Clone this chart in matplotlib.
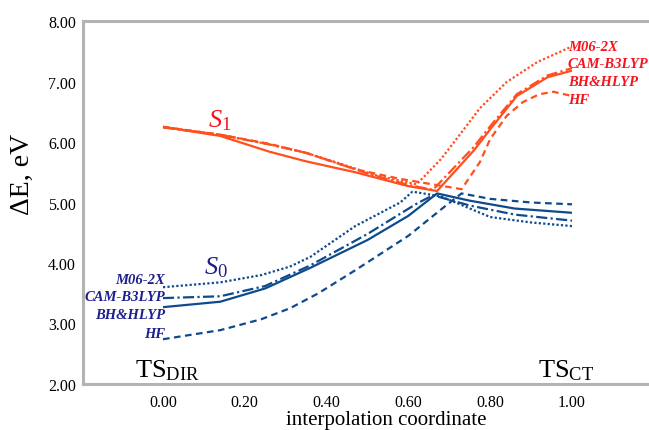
import matplotlib
matplotlib.use("Agg")
import matplotlib.pyplot as plt

plt.rcParams['font.family'] = ['Liberation Serif', 'DejaVu Serif']
plt.rcParams['mathtext.fontset'] = 'custom'
plt.rcParams['mathtext.rm'] = 'Liberation Serif'
plt.rcParams['mathtext.it'] = 'Liberation Serif:italic'
plt.rcParams['mathtext.default'] = 'it'

# ---- data ----
xticks = [0.0, 0.2, 0.4, 0.6, 0.8, 1.0]
xtick_labels = ["0.00", "0.20", "0.40", "0.60", "0.80", "1.00"]
yticks = [2, 3, 4, 5, 6, 7, 8]
ytick_labels = ["2.00", "3.00", "4.00", "5.00", "6.00", "7.00", "8.00"]
methods = ["M06-2X", "CAM-B3LYP", "BH&HLYP", "HF"]

# S0 curves
s0_m06_x = [0, 0.14, 0.24, 0.31, 0.36, 0.47, 0.58, 0.61, 0.68, 0.8, 0.9, 1.0]
s0_m06_y = [3.60, 3.68, 3.80, 3.94, 4.10, 4.61, 5.00, 5.18, 5.10, 4.76, 4.67, 4.61]
s0_cam_x = [0, 0.14, 0.25, 0.36, 0.5, 0.62, 0.66, 0.75, 0.86, 1.0]
s0_cam_y = [3.42, 3.45, 3.62, 3.96, 4.48, 4.98, 5.12, 4.95, 4.80, 4.70]
s0_bhh_x = [0, 0.14, 0.25, 0.36, 0.5, 0.6, 0.67, 0.75, 0.86, 1.0]
s0_bhh_y = [3.27, 3.36, 3.58, 3.92, 4.38, 4.78, 5.15, 5.03, 4.90, 4.83]
s0_hf_x = [0, 0.14, 0.24, 0.31, 0.38, 0.47, 0.6, 0.69, 0.73, 0.8, 0.9, 1.0]
s0_hf_y = [2.74, 2.89, 3.07, 3.25, 3.50, 3.88, 4.45, 4.94, 5.15, 5.06, 5.00, 4.97]

# S1 curves
s1_m06_x = [0, 0.14, 0.26, 0.35, 0.43, 0.52, 0.62, 0.68, 0.73, 0.775, 0.84, 0.915, 1.0]
s1_m06_y = [6.25, 6.12, 5.96, 5.82, 5.65, 5.45, 5.30, 5.72, 6.16, 6.56, 6.99, 7.32, 7.58]
s1_cam_x = [0, 0.14, 0.26, 0.35, 0.43, 0.5, 0.6, 0.66, 0.76, 0.8, 0.865, 0.94, 1.0]
s1_cam_y = [6.24, 6.12, 5.96, 5.82, 5.64, 5.48, 5.29, 5.21, 5.92, 6.26, 6.79, 7.10, 7.22]
s1_bhh_x = [0, 0.14, 0.26, 0.35, 0.47, 0.6, 0.67, 0.76, 0.8, 0.865, 0.94, 1.0]
s1_bhh_y = [6.25, 6.10, 5.84, 5.68, 5.50, 5.27, 5.19, 5.86, 6.21, 6.76, 7.07, 7.18]
s1_hf_x = [0, 0.14, 0.26, 0.35, 0.47, 0.58, 0.73, 0.775, 0.8, 0.84, 0.88, 0.92, 0.955, 1.0]
s1_hf_y = [6.25, 6.12, 5.97, 5.82, 5.55, 5.39, 5.22, 5.67, 6.05, 6.43, 6.66, 6.79, 6.83, 6.76]

# ---- styling ----
BLUE = '#0e4a8e'
RED = '#ff4f1f'
BLUE_TXT = '#1e1e8c'
RED_TXT = '#f5141e'
LW = 1.6
styles = {
    "M06-2X": (0, (1, 1)),
    "CAM-B3LYP": (0, (5, 1.5, 1, 1.5)),
    "BH&HLYP": '-',
    "HF": (0, (3, 2)),
}

fig = plt.figure(figsize=(6.49, 4.31), dpi=100)
ax = fig.add_axes([83/649, 46/431, (649-83)/649, 363/431])

s0 = {"M06-2X": (s0_m06_x, s0_m06_y), "CAM-B3LYP": (s0_cam_x, s0_cam_y),
      "BH&HLYP": (s0_bhh_x, s0_bhh_y), "HF": (s0_hf_x, s0_hf_y)}
s1 = {"M06-2X": (s1_m06_x, s1_m06_y), "CAM-B3LYP": (s1_cam_x, s1_cam_y),
      "BH&HLYP": (s1_bhh_x, s1_bhh_y), "HF": (s1_hf_x, s1_hf_y)}

for m in methods:
    x, y = s0[m]
    ax.plot(x, y, color=BLUE, lw=LW, ls=styles[m], solid_capstyle='butt')
for m in methods:
    x, y = s1[m]
    ax.plot(x, y, color=RED, lw=LW, ls=styles[m], solid_capstyle='butt')

ax.set_xlim(-80/409, 486/409)
ax.set_ylim(2, 8)
ax.set_xticks(xticks)
ax.set_xticklabels(xtick_labels)
ax.set_yticks(yticks)
ax.set_yticklabels(ytick_labels)
ax.tick_params(length=0, labelsize=11.5)
ax.tick_params(axis='y', pad=5)
ax.tick_params(axis='x', pad=7)
for s in ['top', 'bottom', 'left']:
    ax.spines[s].set_color('#b3b3b3')
    ax.spines[s].set_linewidth(2.2)
ax.spines['right'].set_visible(False)

# curve labels
left_y = [3.67, 3.39, 3.09, 2.78]
right_y = [7.52, 7.24, 6.94, 6.64]
for m, yl, yr in zip(methods, left_y, right_y):
    ax.text(0.005, yl, m, color=BLUE_TXT, fontsize=10.5, fontweight='bold',
            fontstyle='italic', ha='right', va='baseline')
    ax.text(0.99, yr, m, color=RED_TXT, fontsize=10.5, fontweight='bold',
            fontstyle='italic', ha='left', va='baseline')

ax.text(0.11, 6.26, r'$S_{1}$', color=RED_TXT, fontsize=19, ha='left', va='baseline')
ax.text(0.10, 3.82, r'$S_{0}$', color=BLUE_TXT, fontsize=19, ha='left', va='baseline')

ax.text(-0.068, 2.13, r'TS$_{\mathrm{DIR}}$', color='black', fontsize=19, ha='left', va='baseline')
ax.text(0.917, 2.13, r'TS$_{\mathrm{CT}}$', color='black', fontsize=19, ha='left', va='baseline')

fig.text(22/649, 1 - 174/431, 'ΔE, eV', rotation=90, fontsize=20, ha='center', va='center')
fig.text(386/649, 1 - 425/431, 'interpolation coordinate', fontsize=15, ha='center', va='baseline')

fig.savefig('out.png', dpi=100)
